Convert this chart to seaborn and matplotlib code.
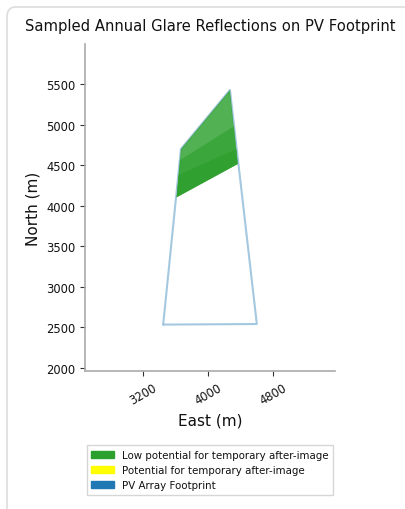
import numpy as np
import matplotlib
matplotlib.use("Agg")
import matplotlib.pyplot as plt
import seaborn as sns
from matplotlib.patches import Patch, FancyBboxPatch

# PV footprint corners (East, North) in metres
footprint_east = [3450, 4600, 4270, 3668, 3450]
footprint_north = [2535, 2542, 5426, 4699, 2535]

# glare reflection area (low potential for after-image)
glare_east = [3615, 3668, 4270, 4365]
glare_north = [4104, 4699, 5426, 4514]

# lower, denser parts of the glare area
dense_east = [3615, 3655, 4320, 4365]
dense_north = [4104, 4560, 4980, 4514]
denser_east = [3615, 3640, 4350, 4365]
denser_north = [4104, 4380, 4700, 4514]

legend_labels = ["Low potential for temporary after-image",
                 "Potential for temporary after-image",
                 "PV Array Footprint"]
legend_colors = ["#2ca02c", "#ffff00", "#1f77b4"]

sns.set_style("white")
fig = plt.figure(figsize=(4.06, 5.10), dpi=100)

# card border behind the chart
card = FancyBboxPatch((7 / 406, -0.05), 1.2, 1.05 - 8 / 510,
                      boxstyle="round,pad=0,rounding_size=0.02",
                      transform=fig.transFigure, facecolor="white",
                      edgecolor="#dddddd", linewidth=1.2, zorder=-10)
fig.patches.append(card)

ax = fig.add_axes([85 / 406, 1 - 372 / 510, 250 / 406, 327 / 510])

ax.plot(footprint_east, footprint_north, color="#1f77b4", alpha=0.4, lw=1.5, zorder=1)
ax.fill(glare_east, glare_north, color="#2ca02c", alpha=0.82, lw=0, zorder=2)
ax.fill(dense_east, dense_north, color="#2ca02c", alpha=0.6, lw=0, zorder=3)
ax.fill(denser_east, denser_north, color="#2ca02c", alpha=0.7, lw=0, zorder=4)

ax.set_xlim(2490, 5560)
ax.set_ylim(1963, 5993)
ax.set_xticks([3200, 4000, 4800])
ax.set_yticks([2000, 2500, 3000, 3500, 4000, 4500, 5000, 5500])
ax.tick_params(axis="both", labelsize=8.3, length=3.5, width=0.8,
               color="#333333", labelcolor="#111111", direction="out",
               bottom=True, left=True)
plt.setp(ax.get_xticklabels(), rotation=30)
ax.set_xlabel("East (m)", fontsize=11, color="#111111")
ax.set_ylabel("North (m)", fontsize=11, color="#111111")
ax.set_title("Sampled Annual Glare Reflections on PV Footprint", fontsize=10.6,
             pad=10, color="#111111")
sns.despine(ax=ax)
for s in ["left", "bottom"]:
    ax.spines[s].set_color("#aaaaaa")
    ax.spines[s].set_linewidth(1.2)

handles = [Patch(color=c, label=l) for c, l in zip(legend_colors, legend_labels)]
fig.legend(handles=handles, loc="center", bbox_to_anchor=(210 / 406, 1 - 471 / 510),
           fontsize=7.4, frameon=True, handlelength=2.2, handleheight=0.7,
           borderpad=0.45, labelspacing=0.5, fancybox=False, edgecolor="#cccccc",
           labelcolor="#111111")

fig.savefig("out.png", dpi=100)
